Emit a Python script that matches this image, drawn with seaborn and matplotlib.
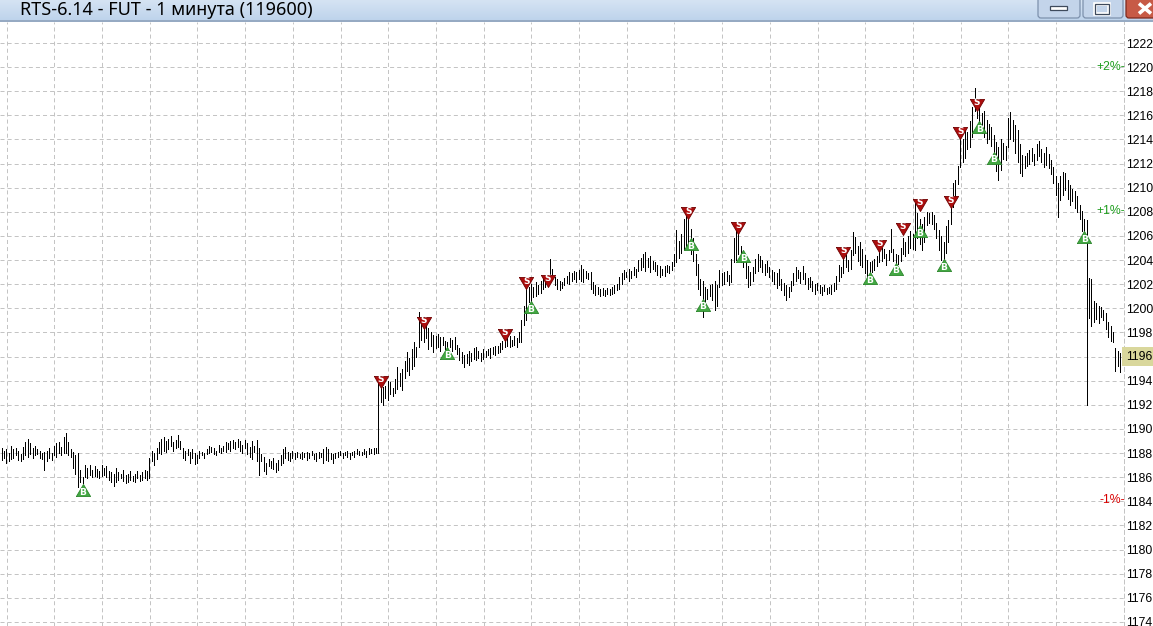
import matplotlib
matplotlib.use('Agg')
import matplotlib.pyplot as plt
import matplotlib.patches as mpatches
from matplotlib.colors import LinearSegmentedColormap
import numpy as np
import pandas as pd
import seaborn as sns

sns.set_style('white')
plt.rcParams['font.family'] = ['Liberation Sans', 'DejaVu Sans']
plt.rcParams['lines.scale_dashes'] = False

# ---------------------------------------------------------------------------------------
# Data (1 minute bars, high/low only)

title = 'RTS-6.14 - FUT - 1 минута (119600)'

bar_low = [
    1187.4, 1187.6, 1187.2, 1187.3, 1187.5, 1187.6, 1187.8, 1187.4, 1187.3, 1187.5,
    1187.8, 1187.7, 1187.9, 1187.6, 1187.8, 1187.9, 1187.6, 1187.5, 1186.6, 1187.3,
    1187.6, 1187.4, 1187.8, 1187.7, 1188.0, 1187.8, 1188.0, 1188.0, 1187.8, 1187.7,
    1186.8, 1186.3, 1185.2, 1185.6, 1185.5, 1186.0, 1185.9, 1186.2, 1186.0, 1186.1,
    1186.0, 1185.9, 1186.1, 1186.2, 1186.0, 1185.8, 1185.6, 1185.3, 1185.6, 1185.8,
    1185.9, 1185.7, 1185.5, 1185.6, 1185.8, 1185.7, 1185.6, 1185.9, 1185.7, 1185.8,
    1185.9, 1185.8, 1185.9, 1187.3, 1187.0, 1187.5, 1188.0, 1187.9, 1188.2, 1188.1,
    1188.3, 1188.6, 1188.2, 1188.4, 1188.5, 1188.3, 1187.6, 1187.4, 1187.8, 1187.2,
    1187.6, 1187.1, 1187.2, 1187.6, 1187.8, 1187.6, 1187.9, 1188.0, 1188.1, 1187.9,
    1187.8, 1188.1, 1188.0, 1188.2, 1188.1, 1188.3, 1188.2, 1188.4, 1188.3, 1188.5,
    1188.2, 1188.0, 1188.4, 1187.9, 1187.7, 1187.5, 1188.1, 1187.3, 1186.2, 1187.3,
    1186.5, 1186.3, 1186.9, 1186.8, 1186.7, 1186.4, 1186.6, 1187.0, 1187.2, 1187.6,
    1187.4, 1187.3, 1187.6, 1187.5, 1187.7, 1187.6, 1187.5, 1187.7, 1187.4, 1187.6,
    1187.8, 1187.5, 1187.3, 1187.6, 1187.7, 1187.2, 1187.4, 1187.3, 1187.5, 1187.2,
    1187.6, 1187.7, 1187.8, 1187.6, 1187.8, 1187.7, 1187.5, 1187.8, 1187.7, 1187.9,
    1187.8, 1187.8, 1187.9, 1187.7, 1187.9, 1188.0, 1187.9, 1188.0, 1188.0, 1192.2,
    1192.0, 1192.6, 1192.4, 1192.9, 1192.7, 1193.0, 1193.3, 1193.6, 1193.2, 1194.2,
    1194.8, 1194.5, 1195.0, 1195.2, 1196.0, 1196.8, 1197.4, 1197.2, 1197.5, 1196.6,
    1196.9, 1196.4, 1196.7, 1196.8, 1196.5, 1197.0, 1196.6, 1196.7, 1196.8, 1196.5,
    1196.6, 1196.2, 1195.7, 1195.5, 1195.1, 1195.5, 1195.3, 1195.6, 1195.8, 1195.7,
    1195.9, 1195.6, 1195.8, 1196.0, 1196.1, 1195.9, 1196.2, 1196.1, 1196.3, 1196.4,
    1196.6, 1196.8, 1196.9, 1196.8, 1196.9, 1197.0, 1196.8, 1197.2, 1197.2, 1198.6,
    1199.0, 1200.5, 1200.6, 1200.9, 1201.0, 1201.2, 1201.3, 1201.6, 1201.8, 1202.0,
    1202.3, 1202.5, 1201.9, 1201.6, 1201.5, 1201.7, 1201.9, 1202.1, 1202.0, 1202.3,
    1202.4, 1202.2, 1202.4, 1202.3, 1202.2, 1202.5, 1202.4, 1201.6, 1201.3, 1201.1,
    1201.2, 1201.0, 1201.1, 1201.0, 1201.2, 1201.1, 1201.2, 1201.3, 1201.5, 1201.6,
    1202.0, 1202.4, 1202.6, 1202.3, 1202.5, 1202.8, 1202.6, 1203.1, 1203.2, 1203.4,
    1203.1, 1203.4, 1203.0, 1203.3, 1203.1, 1202.8, 1202.6, 1202.8, 1202.7, 1203.0,
    1202.9, 1203.2, 1203.5, 1203.8, 1204.2, 1204.6, 1204.8, 1205.2, 1205.0, 1204.5,
    1203.9, 1202.8, 1201.6, 1201.1, 1199.3, 1200.4, 1200.8, 1201.0, 1200.7, 1199.9,
    1200.2, 1201.8, 1201.9, 1202.0, 1202.3, 1201.9, 1202.2, 1203.8, 1204.0, 1204.5,
    1203.8, 1203.4, 1202.5, 1201.8, 1201.9, 1202.3, 1202.9, 1203.1, 1203.4, 1203.0,
    1202.8, 1203.0, 1202.6, 1202.3, 1202.0, 1201.7, 1201.9, 1201.5, 1201.1, 1200.7,
    1200.9, 1201.4, 1201.9, 1202.3, 1202.5, 1202.1, 1202.4, 1202.0, 1201.6, 1201.8,
    1201.4, 1201.2, 1201.5, 1201.3, 1201.1, 1201.4, 1201.2, 1201.3, 1201.2, 1201.4,
    1201.6, 1202.3, 1202.6, 1202.9, 1203.4, 1203.1, 1203.3, 1204.4, 1204.6, 1203.9,
    1203.6, 1203.4, 1202.9, 1202.3, 1202.6, 1203.0, 1203.2, 1203.5, 1203.8, 1203.9,
    1204.2, 1203.6, 1204.0, 1204.7, 1203.9, 1203.4, 1203.7, 1203.9, 1204.5, 1204.3,
    1204.6, 1205.0, 1204.9, 1204.8, 1205.8, 1205.3, 1204.8, 1205.5, 1206.9, 1207.1,
    1207.0, 1206.6, 1205.8, 1204.8, 1204.0, 1203.5, 1204.6, 1205.5, 1207.0, 1208.4,
    1209.3, 1210.3, 1211.7, 1212.1, 1212.5, 1213.2, 1213.4, 1214.2, 1216.4, 1215.8,
    1214.6, 1214.5, 1214.2, 1213.7, 1214.0, 1213.5, 1212.3, 1211.4, 1210.6, 1211.5,
    1212.4, 1212.3, 1213.4, 1214.0, 1213.9, 1212.9, 1212.1, 1211.2, 1211.0, 1211.6,
    1211.8, 1212.0, 1212.2, 1211.9, 1212.3, 1212.6, 1212.1, 1211.7, 1211.9, 1211.6,
    1211.1, 1210.4, 1209.4, 1207.6, 1209.0, 1209.4, 1209.8, 1209.1, 1208.6, 1208.9,
    1208.3, 1208.0, 1207.4, 1206.4, 1205.6, 1192.0, 1199.2, 1198.5, 1198.9, 1199.1,
    1198.8, 1199.3, 1199.0, 1198.3, 1197.6, 1197.3, 1197.2, 1194.8, 1195.2, 1194.7,
]

bar_high = [
    1188.4, 1188.2, 1188.3, 1188.0, 1188.6, 1188.3, 1188.4, 1188.2, 1187.9, 1188.5,
    1188.9, 1189.2, 1188.8, 1188.4, 1188.6, 1188.3, 1188.2, 1188.0, 1188.1, 1188.2,
    1188.4, 1188.0, 1188.6, 1188.8, 1188.9, 1188.5, 1189.3, 1189.7, 1188.9, 1188.3,
    1188.1, 1187.8, 1188.0, 1186.6, 1186.0, 1187.0, 1186.8, 1187.0, 1186.6, 1186.9,
    1186.7, 1186.5, 1187.0, 1186.8, 1186.9, 1186.5, 1186.4, 1186.3, 1186.8, 1186.4,
    1186.3, 1186.6, 1186.2, 1186.3, 1186.5, 1186.1, 1186.3, 1186.5, 1186.2, 1186.4,
    1186.6, 1186.5, 1187.6, 1188.2, 1188.0, 1188.4, 1188.9, 1189.2, 1189.3, 1189.0,
    1189.2, 1189.4, 1188.9, 1189.1, 1189.5, 1189.0, 1188.4, 1188.2, 1188.3, 1188.1,
    1188.3, 1188.0, 1187.8, 1188.2, 1188.1, 1188.0, 1188.3, 1188.6, 1188.5, 1188.4,
    1188.2, 1188.7, 1188.4, 1188.6, 1188.9, 1188.8, 1189.0, 1189.1, 1188.9, 1189.2,
    1189.0, 1188.7, 1189.1, 1188.8, 1188.5, 1189.0, 1188.6, 1189.1, 1188.4, 1187.9,
    1187.7, 1187.2, 1187.5, 1187.3, 1187.6, 1187.2, 1187.4, 1187.8, 1188.3, 1188.5,
    1188.1, 1188.0, 1188.2, 1188.0, 1188.1, 1187.9, 1188.1, 1188.0, 1188.1, 1188.0,
    1188.2, 1187.9, 1188.0, 1188.1, 1188.0, 1188.3, 1188.5, 1188.3, 1188.0, 1187.9,
    1188.0, 1188.1, 1188.2, 1188.0, 1188.1, 1188.2, 1188.0, 1188.1, 1188.2, 1188.3,
    1188.2, 1188.1, 1188.3, 1188.2, 1188.4, 1188.3, 1188.4, 1188.4, 1193.8, 1193.8,
    1193.5, 1193.6, 1194.0, 1193.9, 1193.4, 1194.1, 1195.1, 1194.6, 1195.0, 1195.6,
    1196.4, 1195.9, 1196.6, 1197.2, 1196.8, 1199.7, 1198.8, 1199.4, 1198.6, 1198.4,
    1198.0, 1197.8, 1197.7, 1197.9, 1197.6, 1197.6, 1197.3, 1197.2, 1197.5, 1197.4,
    1197.6, 1197.0, 1196.7, 1196.4, 1196.1, 1196.2, 1196.5, 1196.3, 1196.7, 1196.8,
    1196.5, 1196.3, 1196.6, 1196.5, 1196.6, 1196.7, 1196.8, 1196.9, 1196.9, 1197.1,
    1197.3, 1197.6, 1197.5, 1197.7, 1197.4, 1197.7, 1197.5, 1198.0, 1199.0, 1200.2,
    1202.3, 1201.8, 1202.0, 1201.8, 1202.2, 1201.9, 1202.3, 1202.5, 1202.6, 1202.6,
    1204.1, 1203.3, 1202.6, 1202.4, 1202.3, 1202.2, 1202.5, 1202.7, 1203.0, 1202.9,
    1203.1, 1203.0, 1203.2, 1203.6, 1203.3, 1203.1, 1202.9, 1203.0, 1202.2, 1201.9,
    1201.8, 1201.6, 1201.7, 1201.5, 1201.7, 1201.6, 1201.8, 1201.9, 1202.0, 1202.6,
    1202.9, 1203.2, 1203.0, 1203.3, 1203.1, 1203.4, 1203.3, 1204.0, 1204.2, 1204.5,
    1204.7, 1204.2, 1204.3, 1203.9, 1203.8, 1203.6, 1203.5, 1203.3, 1203.5, 1203.6,
    1203.5, 1203.8, 1204.5, 1206.5, 1205.6, 1206.2, 1207.4, 1208.3, 1207.6, 1206.6,
    1205.8, 1204.5, 1203.7, 1202.4, 1202.3, 1201.8, 1201.6, 1201.9, 1202.0, 1202.3,
    1201.9, 1203.2, 1202.9, 1203.0, 1203.1, 1202.8, 1204.1, 1205.8, 1207.0, 1206.4,
    1205.2, 1204.6, 1204.0, 1203.5, 1203.0, 1203.4, 1204.1, 1204.5, 1204.3, 1204.0,
    1203.7, 1203.9, 1203.4, 1203.2, 1203.0, 1202.9, 1203.3, 1202.4, 1202.1, 1201.9,
    1201.8, 1202.3, 1202.9, 1203.4, 1203.2, 1203.0, 1203.5, 1202.9, 1202.5, 1202.6,
    1202.3, 1202.0, 1202.1, 1201.9, 1201.8, 1201.9, 1201.7, 1201.8, 1201.9, 1202.1,
    1202.7, 1203.6, 1203.4, 1204.6, 1204.4, 1204.0, 1204.8, 1206.3, 1205.9, 1205.2,
    1205.5, 1204.9, 1204.4, 1204.0, 1203.8, 1203.9, 1204.1, 1204.3, 1205.1, 1205.0,
    1204.9, 1204.5, 1204.8, 1206.6, 1204.9, 1204.5, 1204.4, 1205.0, 1205.8, 1205.5,
    1206.0, 1206.4, 1206.2, 1208.7, 1207.9, 1207.4, 1207.0, 1207.6, 1208.0, 1207.9,
    1208.0, 1207.7, 1207.1, 1206.5, 1206.0, 1205.5, 1206.8, 1207.3, 1208.6, 1210.4,
    1210.6, 1211.8, 1214.2, 1214.0, 1214.8, 1214.6, 1215.5, 1216.7, 1218.3, 1217.3,
    1216.6, 1216.2, 1216.4, 1215.6, 1215.3, 1215.0, 1214.4, 1213.8, 1213.4, 1214.0,
    1213.7, 1213.5, 1215.8, 1216.3, 1215.6, 1215.2, 1214.8, 1213.6, 1212.7, 1212.6,
    1212.9, 1213.1, 1213.3, 1212.8, 1213.6, 1213.9, 1213.2, 1212.9, 1213.4, 1212.8,
    1212.3, 1211.7, 1211.0, 1210.4, 1211.0, 1211.3, 1211.2, 1210.6, 1210.2, 1209.9,
    1209.7, 1209.3, 1208.6, 1208.1, 1207.4, 1207.3, 1202.5, 1202.4, 1200.6, 1200.4,
    1200.2, 1200.1, 1199.9, 1199.6, 1198.9, 1198.5, 1198.0, 1196.7, 1196.5, 1196.3,
]

# trade signals: bar number and price
sell_idx = [159, 177, 211, 220, 229, 288, 309, 353, 368, 378, 385, 398, 402, 409]
sell_px = [1193.9, 1198.8, 1197.8, 1202.1, 1202.3, 1207.9, 1206.7, 1204.6, 1205.2,
           1206.6, 1208.6, 1208.8, 1214.5, 1216.9]
buy_idx = [34, 187, 222, 289, 294, 311, 364, 375, 385, 395, 410, 416, 454]
buy_px = [1184.9, 1196.3, 1200.1, 1205.3, 1200.3, 1204.3, 1202.5, 1203.3, 1206.4,
          1203.6, 1215.0, 1212.5, 1205.9]

price_ticks = list(range(1174, 1223, 2))
ref_close = 1196.1          # base for the % levels
pct_levels = [2, 1, -1]
last_price = 1196

# ---------------------------------------------------------------------------------------
# Figure layout (pixels)

W, H = 1153, 626
title_h = 22
plot_right = 1124
bar_step = 2.385            # px between bars
bar_x0 = 1.5                # px of first bar
px_per_unit = 12.06
y_1222 = 43
label_size = 8.8

bars = pd.DataFrame({'low': bar_low, 'high': bar_high})
bars['idx'] = np.arange(len(bars))
sells = pd.DataFrame({'idx': sell_idx, 'price': sell_px})
buys = pd.DataFrame({'idx': buy_idx, 'price': buy_px})

fig = plt.figure(figsize=(W / 100, H / 100), dpi=100, facecolor='white')
ax = fig.add_axes([0, 0, plot_right / W, (H - title_h) / H])
ax.set_facecolor('white')

ax.set_xlim(-bar_x0 / bar_step, (plot_right - bar_x0) / bar_step)
ax.set_ylim(1222 - (H - y_1222) / px_per_unit, 1222 + (y_1222 - title_h) / px_per_unit)

# grid
grid_kw = dict(color='#c4c4c4', linestyle=(0, (2.9, 2.2)), linewidth=0.72)
ax.set_yticks(price_ticks)
ax.set_xticks(np.arange(23) * 20 + (6.7 - bar_x0) / bar_step)
ax.grid(True, **grid_kw)
ax.set_axisbelow(True)
ax.tick_params(axis='x', length=0, labelbottom=False)
ax.yaxis.tick_right()
ax.tick_params(axis='y', length=0, pad=1.3, labelsize=label_size, labelcolor='black',
               labelright=True, labelleft=False)
for s in ['top', 'left', 'bottom']:
    ax.spines[s].set_visible(False)
ax.spines['right'].set_color('#c4c4c4')
ax.spines['right'].set_linestyle((0, (2.9, 2.2)))
ax.spines['right'].set_linewidth(0.72)

# bars
ax.vlines(bars['idx'], bars['low'], bars['high'], color='black', linewidth=0.5,
          antialiased=False, zorder=3)

# signals
sell_shape = [(-1, 0.85), (1, 0.85), (0, -0.85), (-1, 0.85)]
buy_shape = [(-1, -0.85), (1, -0.85), (0, 0.85), (-1, -0.85)]
sns.scatterplot(data=sells, x='idx', y='price', marker=sell_shape, s=105,
                color='#ad0d0d', edgecolor='#6e0000', linewidth=0.6, ax=ax,
                zorder=4, legend=False)
sns.scatterplot(data=buys, x='idx', y='price', marker=buy_shape, s=105,
                color='#43a843', edgecolor='#2b862b', linewidth=0.6, ax=ax,
                zorder=4, legend=False)
for i, p in zip(sell_idx, sell_px):
    ax.annotate('S', (i, p), xytext=(0, 1.4), textcoords='offset points',
                ha='center', va='center', fontsize=6.5, color='white',
                fontweight='bold', family='DejaVu Sans', zorder=5)
for i, p in zip(buy_idx, buy_px):
    ax.annotate('B', (i, p), xytext=(0, -1.6), textcoords='offset points',
                ha='center', va='center', fontsize=6.5, color='white',
                fontweight='bold', family='DejaVu Sans', zorder=5)
ax.set_xlabel('')
ax.set_ylabel('')

# % levels on the right edge
ytr = ax.get_yaxis_transform()
for pct in pct_levels:
    lvl = ref_close * (1 + pct / 100)
    col = '#1e9e1e' if pct > 0 else '#d80000'
    ax.text(1.001, lvl, f'{pct:+d}%-', transform=ytr, ha='right', va='center',
            fontsize=label_size, color=col, zorder=6)

# last price box
ax.text(1.0 + 2 / plot_right, last_price, str(last_price), transform=ytr,
        ha='left', va='center', fontsize=label_size, color='black', zorder=7,
        clip_on=False, bbox=dict(boxstyle='square,pad=0.3', fc='#d9d79c', ec='none'))

# ---------------------------------------------------------------------------------------
# Window title bar

tax = fig.add_axes([0, 1 - title_h / H, 1, title_h / H])
tax.set_xlim(0, W)
tax.set_ylim(title_h, 0)
tax.axis('off')
cmap = LinearSegmentedColormap.from_list('tb', ['#d5e3f3', '#bcd2eb'])
tax.imshow(np.linspace(0, 1, 40).reshape(-1, 1), extent=(0, W, title_h, 0),
           aspect='auto', cmap=cmap)
tax.axhline(title_h - 0.6, color='#8fa3bb', linewidth=1.2)
tax.text(20, 10, title, fontsize=13, family=['Noto Sans', 'DejaVu Sans'],
         va='center', ha='left', color='black')

# buttons
tax.add_patch(mpatches.FancyBboxPatch((1038, -4), 42, 22,
              boxstyle='round,pad=0,rounding_size=3', fc='#c3d4ea', ec='#7d91ad', lw=0.9))
tax.add_patch(mpatches.FancyBboxPatch((1083, -4), 40, 22,
              boxstyle='round,pad=0,rounding_size=3', fc='#c3d4ea', ec='#7d91ad', lw=0.9))
tax.add_patch(mpatches.FancyBboxPatch((1126, -4), 40, 22,
              boxstyle='round,pad=0,rounding_size=3', fc='#c75a46', ec='#7e2a1e', lw=0.9))
tax.add_patch(mpatches.Rectangle((1050, 6), 17, 3.5, fc='white', ec='#3e4a5c', lw=0.9))
tax.add_patch(mpatches.Rectangle((1095, 3.5), 14, 10, fc='none', ec='white', lw=2.6))
tax.add_patch(mpatches.Rectangle((1095, 3.5), 14, 10, fc='none', ec='#3e4a5c', lw=0.9))
tax.plot([1139, 1151], [3.5, 13.5], color='white', lw=2.6, solid_capstyle='butt')
tax.plot([1139, 1151], [13.5, 3.5], color='white', lw=2.6, solid_capstyle='butt')

fig.savefig('out.png', dpi=100, facecolor='white')
